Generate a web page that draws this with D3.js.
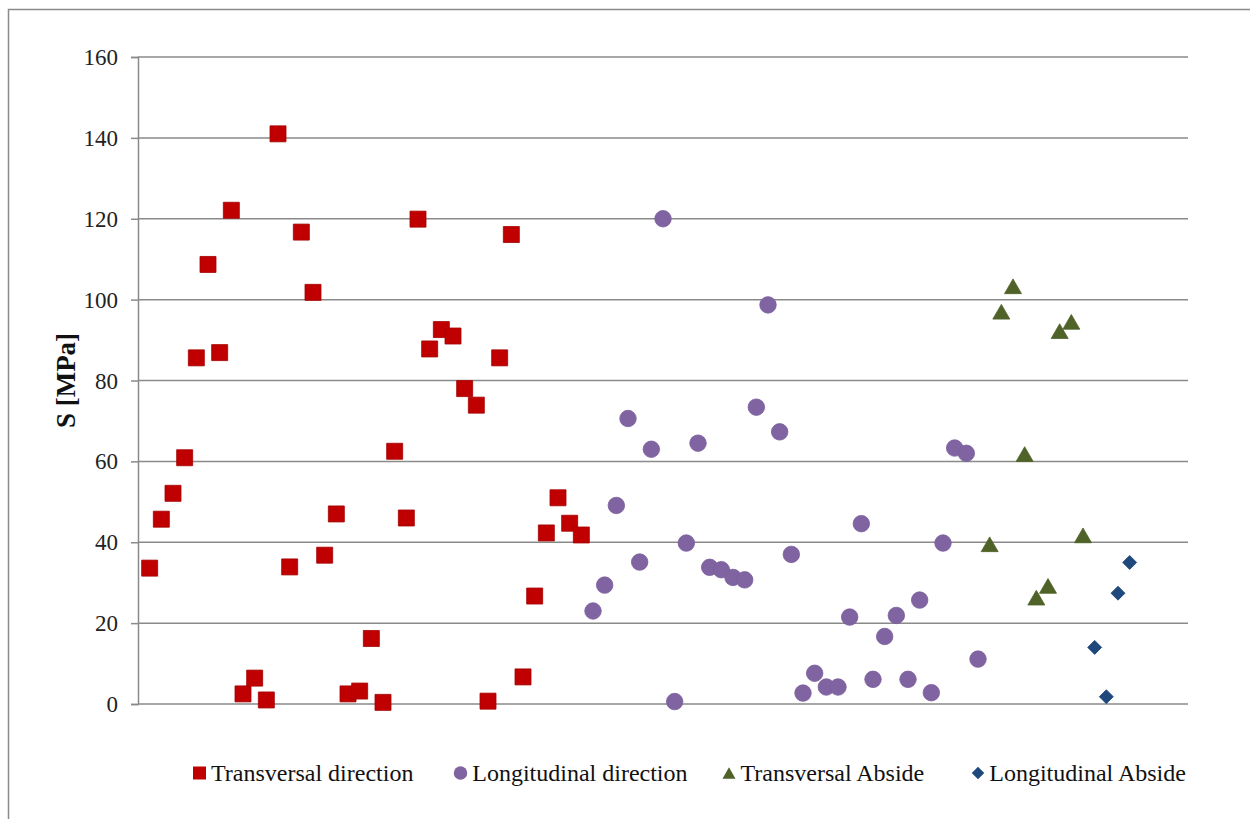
<!DOCTYPE html>
<html>
<head>
<meta charset="utf-8">
<script src="https://cdn.jsdelivr.net/npm/d3@7"></script>
<style>
  body { margin: 0; background: #fff; }
  svg { display: block; }
  .tick-label { font-family: "Liberation Serif", "Times New Roman", serif; font-size: 23px; fill: #222; }
  .legend-label { font-family: "Liberation Serif", "Times New Roman", serif; font-size: 24px; fill: #111; }
  .axis-title { font-family: "Liberation Serif", "Times New Roman", serif; font-size: 27px; font-weight: bold; fill: #111; }
</style>
</head>
<body>
<div id="chart"></div>
<script>
// values, in the order the points appear left to right
const transversalDirection = [33.6, 45.7, 52.1, 60.9, 85.6, 108.7, 86.9, 122.1, 2.5, 6.4, 1.0, 141.0, 33.9, 116.7,
  101.8, 36.8, 47.0, 2.5, 3.2, 16.2, 0.4, 62.5, 46.0, 119.9, 87.8, 92.6, 91.0, 78.0, 73.9, 0.7, 85.6, 116.1,
  6.7, 26.7, 42.3, 51.0, 44.7, 41.8];
const longitudinalDirection = [23.0, 29.4, 49.1, 70.6, 35.1, 63.0, 120.0, 0.6, 39.8, 64.5, 33.8, 33.2, 31.3, 30.7,
  73.4, 98.7, 67.3, 37.0, 2.7, 7.6, 4.2, 4.2, 21.5, 44.6, 6.1, 16.7, 21.9, 6.1, 25.7, 2.8, 39.8, 63.3, 62.0, 11.1];
const transversalAbside = [39.5, 97.0, 103.3, 61.8, 26.3, 29.2, 92.2, 94.5, 41.7];
const longitudinalAbside = [14.0, 1.8, 27.4, 35.0];

const seriesNames = ['Transversal direction', 'Longitudinal direction', 'Transversal Abside', 'Longitudinal Abside'];
const yTicks = [0, 20, 40, 60, 80, 100, 120, 140, 160];
const xMax = 90;

const width = 1250, height = 819;
const margin = {top: 57, right: 62, bottom: 115, left: 138};

const svg = d3.select('#chart').append('svg')
    .attr('width', width)
    .attr('height', height);

// outer frame of the chart area
svg.append('rect')
    .attr('x', 8.5).attr('y', 9.5)
    .attr('width', 1400).attr('height', 1000)
    .attr('fill', 'none')
    .attr('stroke', '#8a8a8a')
    .attr('stroke-width', 1.5);

const xScale = d3.scaleLinear()
    .domain([0, xMax])
    .range([margin.left, width - margin.right]);

const yScale = d3.scaleLinear()
    .domain([0, 160])
    .range([height - margin.bottom, margin.top]);

// gridlines + y axis
const yAxis = d3.axisLeft(yScale)
    .tickValues(yTicks)
    .tickSize(7)
    .tickPadding(13)
    .tickFormat(d3.format('d'));

const yAxisG = svg.append('g')
    .attr('transform', `translate(${margin.left},0)`)
    .call(yAxis);
yAxisG.select('.domain').attr('stroke', '#8a8a8a').attr('stroke-width', 1.5);
yAxisG.selectAll('.tick line').attr('stroke', '#8a8a8a').attr('stroke-width', 1.5);
yAxisG.selectAll('.tick text')
    .attr('class', 'tick-label')
    .attr('dy', '0.33em')
    .attr('font-family', null).attr('font-size', null);

svg.append('g')
    .selectAll('line')
    .data(yTicks)
    .join('line')
    .attr('x1', margin.left)
    .attr('x2', width - margin.right)
    .attr('y1', d => yScale(d))
    .attr('y2', d => yScale(d))
    .attr('stroke', '#8a8a8a')
    .attr('stroke-width', 1.5);

// y axis title
svg.append('text')
    .attr('class', 'axis-title')
    .attr('text-anchor', 'middle')
    .attr('transform', `translate(75, ${(margin.top + height - margin.bottom) / 2}) rotate(-90)`)
    .text('S [MPa]');

// marker shapes, centred on their bounding box
const shapes = [
  {color: '#c00000', stroke: '#a50000', path: s => d3.symbol(d3.symbolSquare, s * s)(), tri: false, rot: 0},
  {color: '#8064a2', stroke: '#7a5e9c', path: s => d3.symbol(d3.symbolCircle, Math.PI * s * s / 4)(), tri: false, rot: 0},
  {color: '#4f6228', stroke: '#4f6228', path: s => {
      const y = s / (2 * Math.sqrt(3));
      return d3.symbol(d3.symbolTriangle, 3 * Math.sqrt(3) * y * y)();
    }, tri: true, rot: 0},
  {color: '#1f497d', stroke: '#1f497d', path: s => d3.symbol(d3.symbolSquare, s * s / 2)(), tri: false, rot: 45}
];
const markerSizes = [16, 16.5, 17, 14];
const triOffset = s => s / (2 * Math.sqrt(3)) / 2;

const allSeries = [transversalDirection, longitudinalDirection, transversalAbside, longitudinalAbside];
let index = 0;
const points = [];
allSeries.forEach((vals, si) => {
  vals.forEach(v => {
    index += 1;
    points.push({series: si, x: index, y: v});
  });
});

svg.append('g')
    .selectAll('path')
    .data(points)
    .join('path')
    .attr('d', d => shapes[d.series].path(markerSizes[d.series]))
    .attr('transform', d => {
      const s = markerSizes[d.series];
      const off = shapes[d.series].tri ? triOffset(s) : 0;
      return `translate(${xScale(d.x)},${yScale(d.y) + off}) rotate(${shapes[d.series].rot})`;
    })
    .attr('fill', d => shapes[d.series].color)
    .attr('stroke', d => shapes[d.series].stroke)
    .attr('stroke-width', 0.8);

// legend
const legendX = [199.5, 460.5, 729, 978];
const legendSizes = [13, 13.5, 13, 12.5];
const legend = svg.append('g').attr('class', 'legend');
const item = legend.selectAll('.legend-item')
    .data(seriesNames)
    .join('g')
    .attr('class', 'legend-item')
    .attr('transform', (d, i) => `translate(${legendX[i]}, 773)`);

item.append('path')
    .attr('d', (d, i) => shapes[i].path(legendSizes[i]))
    .attr('transform', (d, i) => `translate(0, ${shapes[i].tri ? triOffset(legendSizes[i]) : 0}) rotate(${shapes[i].rot})`)
    .attr('fill', (d, i) => shapes[i].color);

item.append('text')
    .attr('class', 'legend-label')
    .attr('x', (d, i) => legendSizes[i] / 2 + 5)
    .attr('y', 8)
    .text(d => d);
</script>
</body>
</html>
